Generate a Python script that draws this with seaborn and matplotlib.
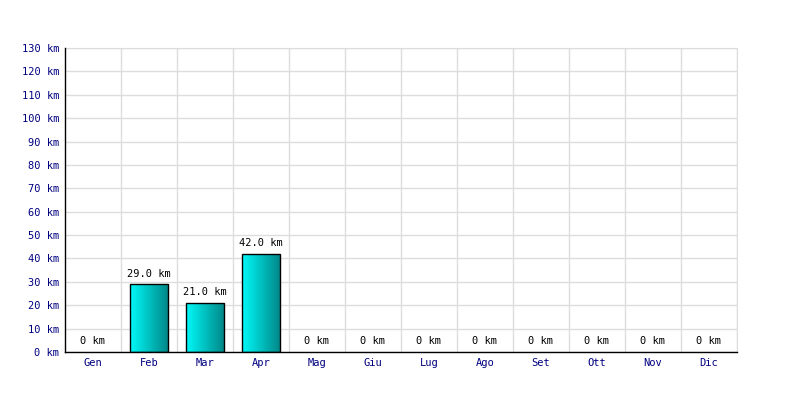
import numpy as np
import matplotlib
matplotlib.use("Agg")
import matplotlib.pyplot as plt
import seaborn as sns
from matplotlib.colors import LinearSegmentedColormap

months = ["Gen", "Feb", "Mar", "Apr", "Mag", "Giu", "Lug", "Ago", "Set", "Ott", "Nov", "Dic"]
km = [0, 29.0, 21.0, 42.0, 0, 0, 0, 0, 0, 0, 0, 0]
yticks = list(range(0, 140, 10))

sns.set_style("white")
plt.rcParams["font.family"] = ["DejaVu Sans Mono"]

fig = plt.figure(figsize=(8, 4), dpi=100)
ax = fig.add_axes([65 / 800, 48 / 400, 672 / 800, 304 / 400])

sns.barplot(x=months, y=km, ax=ax, width=0.68, color="#00cccc",
            edgecolor="black", linewidth=1, zorder=3)

# horizontal gradient cyan -> teal inside each bar
cmap = LinearSegmentedColormap.from_list("cy", ["#00fafa", "#008585"])
grad = np.linspace(0, 1, 256).reshape(1, -1)
for p in ax.patches:
    x0, y0 = p.get_x(), p.get_y()
    w, h = p.get_width(), p.get_height()
    if h <= 0:
        p.set_visible(False)
        continue
    im = ax.imshow(grad, extent=[x0, x0 + w, y0, y0 + h], aspect="auto",
                   cmap=cmap, zorder=3.5)
    im.set_clip_path(p)
    p.set_facecolor("none")
    p.set_zorder(4)

for i, v in enumerate(km):
    lbl = "0 km" if v == 0 else f"{v:.1f} km"
    ax.annotate(lbl, (i, v), xytext=(0, 4), textcoords="offset points",
                ha="center", va="bottom", fontsize=7.5, color="black", zorder=5)

ax.set_xlim(-0.5, 11.5)
ax.set_ylim(0, 130)
ax.set_yticks(yticks)
ax.set_yticklabels([f"{t} km" for t in yticks])
ax.set_xticks(np.arange(len(months)) + 0.5, minor=True)
ax.grid(True, which="major", axis="y", color="#dddddd", linewidth=1, zorder=0)
ax.grid(True, which="minor", axis="x", color="#dddddd", linewidth=1, zorder=0)
ax.tick_params(axis="both", which="both", length=0, labelsize=7.5, labelcolor="#000080")
ax.tick_params(axis="y", pad=4)
ax.tick_params(axis="x", pad=4)

for s in ["top", "right"]:
    ax.spines[s].set_color("#dddddd")
for s in ["left", "bottom"]:
    ax.spines[s].set_color("black")
    ax.spines[s].set_linewidth(1)
    ax.spines[s].set_zorder(6)

fig.savefig("out.png", dpi=100)
